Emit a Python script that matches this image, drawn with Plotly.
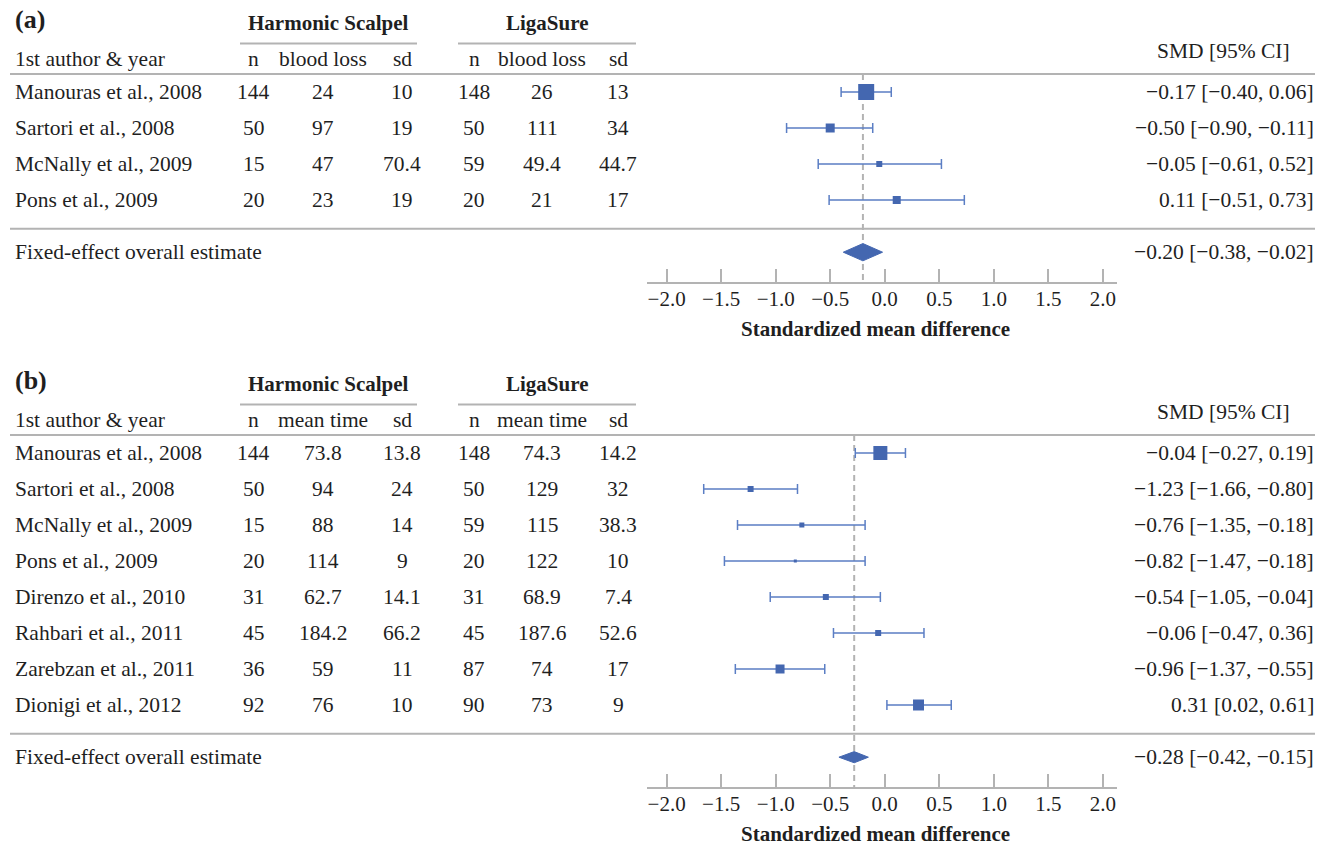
import plotly.graph_objects as go

W, H = 1329, 845
FONT = "Liberation Serif"
TXT = "#1f1f1f"
GRID = "#b3b3b3"
MARK = "#4467b0"
ERRC = "#5b7ec4"

# ---------------- Panel (a): blood loss ----------------
studies_a = ["Manouras et al., 2008", "Sartori et al., 2008", "McNally et al., 2009", "Pons et al., 2009"]
hs_n_a = [144, 50, 15, 20]
hs_val_a = [24, 97, 47, 23]
hs_sd_a = [10, 19, 70.4, 19]
ls_n_a = [148, 50, 59, 20]
ls_val_a = [26, 111, 49.4, 21]
ls_sd_a = [13, 34, 44.7, 17]
smd_a = [-0.17, -0.50, -0.05, 0.11]
lo_a = [-0.40, -0.90, -0.61, -0.51]
hi_a = [0.06, -0.11, 0.52, 0.73]
overall_a = (-0.20, -0.38, -0.02)

# ---------------- Panel (b): operative time ----------------
studies_b = ["Manouras et al., 2008", "Sartori et al., 2008", "McNally et al., 2009", "Pons et al., 2009",
             "Direnzo et al., 2010", "Rahbari et al., 2011", "Zarebzan et al., 2011", "Dionigi et al., 2012"]
hs_n_b = [144, 50, 15, 20, 31, 45, 36, 92]
hs_val_b = [73.8, 94, 88, 114, 62.7, 184.2, 59, 76]
hs_sd_b = [13.8, 24, 14, 9, 14.1, 66.2, 11, 10]
ls_n_b = [148, 50, 59, 20, 31, 45, 87, 90]
ls_val_b = [74.3, 129, 115, 122, 68.9, 187.6, 74, 73]
ls_sd_b = [14.2, 32, 38.3, 10, 7.4, 52.6, 17, 9]
smd_b = [-0.04, -1.23, -0.76, -0.82, -0.54, -0.06, -0.96, 0.31]
lo_b = [-0.27, -1.66, -1.35, -1.47, -1.05, -0.47, -1.37, 0.02]
hi_b = [0.19, -0.80, -0.18, -0.18, -0.04, 0.36, -0.55, 0.61]
overall_b = (-0.28, -0.42, -0.15)

# square sizes (px), proportional to study weight (style)
box_a = [16, 9, 6, 8]
box_b = [14, 6, 5, 3, 6, 6, 9, 11]

tick_vals = [-2.0, -1.5, -1.0, -0.5, 0.0, 0.5, 1.0, 1.5, 2.0]
tick_text = [f"{v:.1f}".replace("-", "\u2212") for v in tick_vals]

ROWPX = 36.0
X_L, X_R = 647, 1117
XRANGE = [-2.18, 2.13]


def fmt(v):
    return f"{v:.2f}".replace("-", "\u2212")


def fmtn(v):
    return str(v).replace("-", "\u2212")


fig = go.Figure()
annotations = []
shapes = []
layout_axes = {}


def px(x):
    return x / W


def add_panel(k, label, val_name, studies, hs_n, hs_val, hs_sd, ls_n, ls_val, ls_sd,
              smd, lo, hi, overall, boxes, top_px, bot_px, row0_px, diam_h):
    n = len(studies)
    xa = "x" if k == 1 else f"x{k}"
    ya = "y" if k == 1 else f"y{k}"
    yr = [(bot_px - row0_px) / ROWPX, (top_px - row0_px) / ROWPX]
    ydom = [(H - bot_px) / H, (H - top_px) / H]
    axis_row = n + 1.3
    axis_pos = (H - (row0_px + ROWPX * axis_row)) / H
    xkey = "xaxis" if k == 1 else f"xaxis{k}"
    ykey = "yaxis" if k == 1 else f"yaxis{k}"
    layout_axes[xkey] = dict(domain=[px(X_L), px(X_R)], range=XRANGE, anchor="free", position=axis_pos,
                             showgrid=False, zeroline=False, showline=True, linecolor=GRID, linewidth=2,
                             ticks="inside", ticklen=13, tickwidth=2, tickcolor=GRID,
                             tickvals=tick_vals, ticktext=tick_text, ticklabelstandoff=-3,
                             tickfont=dict(family=FONT, size=21, color=TXT), fixedrange=True)
    layout_axes[ykey] = dict(domain=ydom, range=yr, anchor=xa, visible=False, fixedrange=True)

    rows = list(range(n))
    # error bars + squares
    fig.add_trace(go.Scatter(
        x=smd, y=rows, mode="markers", xaxis=xa, yaxis=ya, showlegend=False,
        marker=dict(symbol="square", size=boxes, color=MARK, opacity=1, line=dict(width=0)),
        error_x=dict(type="data", symmetric=False,
                     array=[h - s for h, s in zip(hi, smd)],
                     arrayminus=[s - l for s, l in zip(smd, lo)],
                     color=ERRC, thickness=1.5, width=5),
        hoverinfo="skip"))
    # diamond
    est, dlo, dhi = overall
    orow = n + 0.45
    fig.add_trace(go.Scatter(
        x=[dlo, est, dhi, est, dlo], y=[orow, orow - diam_h, orow, orow + diam_h, orow],
        mode="lines", fill="toself", fillcolor=MARK, line=dict(color=MARK, width=1),
        xaxis=xa, yaxis=ya, showlegend=False, hoverinfo="skip"))

    # dashed line at overall estimate
    shapes.append(dict(type="line", xref=xa, yref=ya, x0=est, x1=est, y0=-0.5, y1=axis_row,
                       line=dict(color=GRID, width=2, dash="6px,4px"), layer="below"))
    # horizontal rules
    for yy in (-0.5, n - 0.2):
        shapes.append(dict(type="line", xref="paper", yref=ya, x0=px(10), x1=px(1315), y0=yy, y1=yy,
                           line=dict(color=GRID, width=2), layer="below"))
    for (a, b) in ((240, 417), (458, 636)):
        shapes.append(dict(type="line", xref="paper", yref=ya, x0=px(a), x1=px(b), y0=-1.35, y1=-1.35,
                           line=dict(color=GRID, width=2), layer="below"))

    def txt(x, y, s, anchor="center", bold=False, size=21.5):
        annotations.append(dict(x=px(x), y=y, xref="paper", yref=ya, text=(f"<b>{s}</b>" if bold else s),
                                showarrow=False, xanchor=anchor, yanchor="middle",
                                font=dict(family=FONT, size=size, color=TXT)))

    txt(13, -2.02, label, "left", True, 26)
    txt(328, -1.93, "Harmonic Scalpel", bold=True, size=21)
    txt(547, -1.93, "LigaSure", bold=True, size=21)
    txt(13, -0.92, "1st author &amp; year", "left")
    for cx, s in ((254, "n"), (323, val_name), (402, "sd"), (474, "n"), (542, val_name), (618, "sd")):
        txt(cx, -0.92, s)
    txt(1292, -1.15, "SMD [95% CI]", "right")
    for i in range(n):
        txt(13, i, studies[i], "left")
        for cx, v in ((254, hs_n[i]), (323, hs_val[i]), (402, hs_sd[i]),
                      (474, ls_n[i]), (542, ls_val[i]), (618, ls_sd[i])):
            txt(cx, i, fmtn(v))
        txt(1316, i, f"{fmt(smd[i])} [{fmt(lo[i])}, {fmt(hi[i])}]", "right")
    txt(13, orow, "Fixed-effect overall estimate", "left")
    txt(1316, orow, f"{fmt(est)} [{fmt(dlo)}, {fmt(dhi)}]", "right")
    txt((X_L + X_R) / 2 - 7, n + 2.58, "Standardized mean difference", bold=True, size=21)


add_panel(1, "(a)", "blood loss", studies_a, hs_n_a, hs_val_a, hs_sd_a, ls_n_a, ls_val_a, ls_sd_a,
          smd_a, lo_a, hi_a, overall_a, box_a, 0, 350, 92, 0.24)
add_panel(2, "(b)", "mean time", studies_b, hs_n_b, hs_val_b, hs_sd_b, ls_n_b, ls_val_b, ls_sd_b,
          smd_b, lo_b, hi_b, overall_b, box_b, 360, 845, 453, 0.155)

fig.update_layout(
    width=W, height=H, margin=dict(l=0, r=0, t=0, b=0),
    paper_bgcolor="white", plot_bgcolor="rgba(0,0,0,0)",
    annotations=annotations, shapes=shapes, showlegend=False,
    **layout_axes)

fig.write_html("out.html", config={"displayModeBar": False},
               post_script="document.body.style.margin='0';")
